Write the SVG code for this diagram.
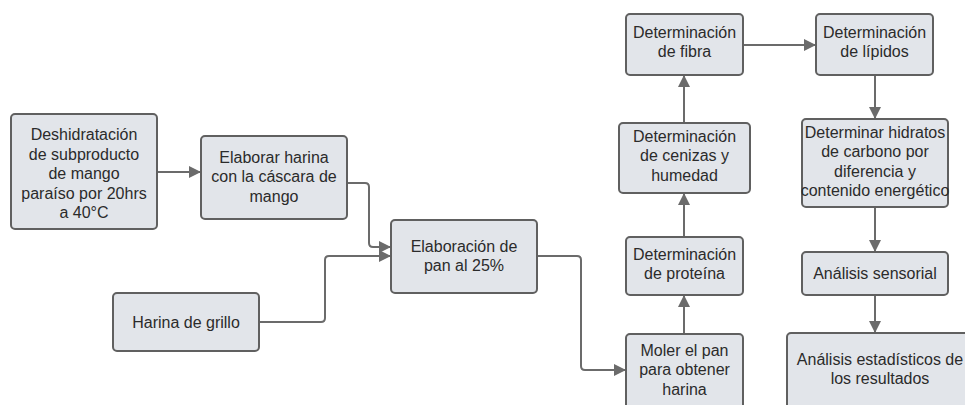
<svg xmlns="http://www.w3.org/2000/svg" width="965" height="405" viewBox="0 0 965 405">
<style>
.box{fill:#e2e5ea;stroke:#606060;stroke-width:2}
.t{font-family:"Liberation Sans",Arial,sans-serif;font-size:16px;fill:#2b2b2b;text-anchor:middle}
.c{fill:none;stroke:#6b6b6b;stroke-width:2;marker-end:url(#ah)}
</style>
<defs>
<marker id="ah" viewBox="0 0 10 10" refX="10" refY="5" markerWidth="12" markerHeight="12" markerUnits="userSpaceOnUse" orient="auto">
<path d="M0,0 L10,5 L0,10 z" fill="#6b6b6b"/>
</marker>
</defs>
<rect width="965" height="405" fill="#ffffff"/>
<g id="connectors">
<path class="c" d="M157,172 H201"/>
<path class="c" d="M347,183 H365 Q369,183 369,187 V243 Q369,247 373,247 H391"/>
<path class="c" d="M259,322 H321 Q325,322 325,318 V260 Q325,256 329,256 H391"/>
<path class="c" d="M537,256 H577 Q581,256 581,260 V366 Q581,370 585,370 H626"/>
<path class="c" d="M684,334 V295"/>
<path class="c" d="M684,237 V193"/>
<path class="c" d="M684,123 V75"/>
<path class="c" d="M743,45 H816"/>
<path class="c" d="M875,75 V119"/>
<path class="c" d="M875,207 V252"/>
<path class="c" d="M875,295 V333"/>
</g>
<g id="n1"><rect class="box" x="11" y="114" width="146" height="115" rx="4"/>
<text class="t" x="84" y="140">Deshidratación</text><text class="t" x="84" y="159.5">de subproducto</text><text class="t" x="84" y="179">de mango</text><text class="t" x="84" y="198.5">paraíso por 20hrs</text><text class="t" x="84" y="218">a 40°C</text></g>
<g id="n2"><rect class="box" x="201" y="136" width="146" height="83" rx="4"/>
<text class="t" x="274" y="162.5">Elaborar harina</text><text class="t" x="274" y="182">con la cáscara de</text><text class="t" x="274" y="201.5">mango</text></g>
<g id="n3"><rect class="box" x="113" y="293" width="146" height="58" rx="4"/>
<text class="t" x="186" y="327.5">Harina de grillo</text></g>
<g id="n4"><rect class="box" x="391" y="220" width="146" height="73" rx="4"/>
<text class="t" x="464" y="251.5">Elaboración de</text><text class="t" x="464" y="271">pan al 25%</text></g>
<g id="n5"><rect class="box" x="626" y="334" width="117" height="90" rx="4"/>
<text class="t" x="684.5" y="355.5">Moler el pan</text><text class="t" x="684.5" y="375">para obtener</text><text class="t" x="684.5" y="394.5">harina</text></g>
<g id="n6"><rect class="box" x="626" y="237" width="117" height="58" rx="4"/>
<text class="t" x="684.5" y="259.5">Determinación</text><text class="t" x="684.5" y="279">de proteína</text></g>
<g id="n7"><rect class="box" x="619" y="123" width="131" height="70" rx="4"/>
<text class="t" x="684.5" y="141.5">Determinación</text><text class="t" x="684.5" y="161">de cenizas y</text><text class="t" x="684.5" y="180.5">humedad</text></g>
<g id="n8"><rect class="box" x="626" y="14" width="117" height="61" rx="4"/>
<text class="t" x="684.5" y="37.5">Determinación</text><text class="t" x="684.5" y="57">de fibra</text></g>
<g id="n9"><rect class="box" x="816" y="14" width="117" height="61" rx="4"/>
<text class="t" x="874.5" y="37.5">Determinación</text><text class="t" x="874.5" y="57">de lípidos</text></g>
<g id="n10"><rect class="box" x="802" y="119" width="146" height="88" rx="4"/>
<text class="t" x="875" y="137.5">Determinar hidratos</text><text class="t" x="875" y="157">de carbono por</text><text class="t" x="875" y="176.5">diferencia y</text><text class="t" x="875" y="196">contenido energético</text></g>
<g id="n11"><rect class="box" x="802" y="252" width="146" height="43" rx="4"/>
<text class="t" x="875" y="278.5">Análisis sensorial</text></g>
<g id="n12"><rect class="box" x="787" y="333" width="190" height="90" rx="4"/>
<text class="t" x="880" y="364.5">Análisis estadísticos de</text><text class="t" x="880" y="384">los resultados</text></g>
</svg>
